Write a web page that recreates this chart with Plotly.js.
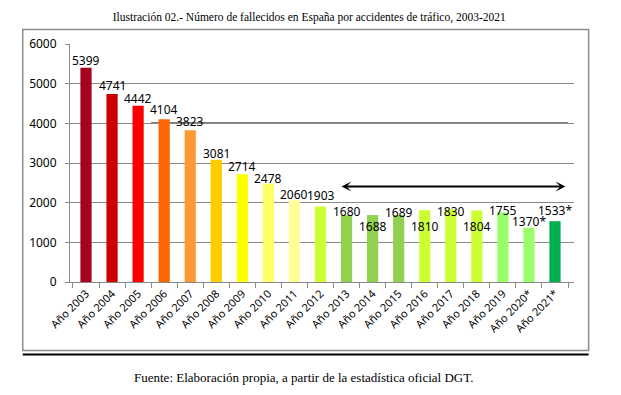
<!DOCTYPE html>
<html>
<head>
<meta charset="utf-8">
<script src="https://cdn.plot.ly/plotly-3.0.1.min.js"></script>
<style>
html,body{margin:0;padding:0;background:#fff;}
#chart{width:621px;height:395px;}
</style>
</head>
<body>
<div id="chart"></div>
<script>
// ---- Data ----
const categories = ['Año 2003','Año 2004','Año 2005','Año 2006','Año 2007','Año 2008','Año 2009','Año 2010','Año 2011','Año 2012','Año 2013','Año 2014','Año 2015','Año 2016','Año 2017','Año 2018','Año 2019','Año 2020*','Año 2021*'];
const fallecidos = [5399,4741,4442,4104,3823,3081,2714,2478,2060,1903,1680,1688,1689,1810,1830,1804,1755,1370,1533];
const valueLabels = ['5399','4741','4442','4104','3823','3081','2714','2478','2060','1903','1680','1688','1689','1810','1830','1804','1755','1370*','1533*'];
const yTickValues = [0,1000,2000,3000,4000,5000,6000];
const arrowLevel = 2408;
const titleText = 'Ilustración 02.- Número de fallecidos en España por accidentes de tráfico, 2003-2021';
const sourceText = 'Fuente: Elaboración propia, a partir de la estadística oficial DGT.';

// ---- Styles ----
const barColors = ['#A50021','#CC0000','#FF0000','#FF6600','#FF9933','#FFCC00','#FFFF00','#FFFF66','#FFFF99','#CCFF33','#92D050','#92D050','#92D050','#CCFF33','#CCFF33','#CCFF33','#99FF66','#99FF66','#00B050'];
const labelShift = [6,7,6,9,8,5,7,4,5,10,3,-12,2,-17,-3,-17,1,5,10];
const sans = 'Noto Sans, Open Sans, sans-serif';
const serif = 'Liberation Serif, Times New Roman, serif';
const gridGray = '#8a8a8a';

const trace = {
  type: 'bar',
  x: categories,
  y: fallecidos,
  marker: {color: barColors, line: {width: 0}},
  hoverinfo: 'none'
};

const annotations = categories.map((c, i) => ({
  x: c, y: fallecidos[i], xref: 'x', yref: 'y',
  text: valueLabels[i], showarrow: false,
  yanchor: 'middle', xanchor: 'center', yshift: labelShift[i] + 1,
  font: {family: sans, size: 12, color: '#000'}
}));

annotations.push({
  x: 18.4, y: arrowLevel, ax: 9.75, ay: arrowLevel,
  xref: 'x', yref: 'y', axref: 'x', ayref: 'y',
  text: '', showarrow: true, arrowside: 'end+start',
  arrowhead: 3, arrowsize: 0.75, arrowwidth: 2.2, arrowcolor: '#000',
  standoff: 0, startstandoff: 0
});

annotations.push({
  x: 0.463, y: -0.4016, xref: 'paper', yref: 'paper',
  text: sourceText, showarrow: false, xanchor: 'center', yanchor: 'middle',
  font: {family: serif, size: 13, color: '#000'}
});

const layout = {
  width: 621, height: 395,
  margin: {l: 70, r: 47, t: 44, b: 112.7, pad: 0},
  paper_bgcolor: '#fff', plot_bgcolor: '#fff',
  showlegend: false,
  bargap: 0.57,
  title: {
    text: titleText, x: 0.498, xanchor: 'center', xref: 'container',
    y: 1 - 17/395, yref: 'container', yanchor: 'middle',
    font: {family: serif, size: 11.5, color: '#000'}
  },
  xaxis: {
    type: 'category',
    showgrid: false,
    showline: true, linecolor: gridGray, linewidth: 1,
    ticks: 'outside', tickson: 'boundaries', ticklen: 5, tickcolor: gridGray, tickwidth: 1,
    tickangle: -45,
    tickfont: {family: sans, size: 11, color: '#000'},
    fixedrange: true
  },
  yaxis: {
    range: [0, 6000],
    tickvals: yTickValues,
    ticktext: yTickValues.map(String),
    showgrid: true, gridcolor: gridGray, gridwidth: 1,
    zeroline: false,
    showline: true, linecolor: gridGray, linewidth: 1,
    ticks: 'outside', ticklen: 4, tickcolor: gridGray,
    ticklabelstandoff: 6,
    tickfont: {family: sans, size: 12, color: '#000'},
    fixedrange: true
  },
  shapes: [
    {type: 'line', xref: 'x', yref: 'y', x0: 2.5, x1: 18.5, y0: 4000, y1: 4000,
     line: {color: '#000', width: 1.5}, layer: 'below'},
    {type: 'rect', xref: 'paper', yref: 'paper', x0: -0.0938, x1: 1.029, y0: -0.288, y1: 1.061,
     line: {color: '#8c8c8c', width: 1.5}, fillcolor: 'rgba(0,0,0,0)', layer: 'below'},
    {type: 'line', xref: 'paper', yref: 'paper', x0: -0.0938, x1: 1.029, y0: -0.305, y1: -0.305,
     line: {color: '#000', width: 2}}
  ],
  annotations: annotations
};

Plotly.newPlot('chart', [trace], layout, {staticPlot: true, displayModeBar: false});
</script>
</body>
</html>
